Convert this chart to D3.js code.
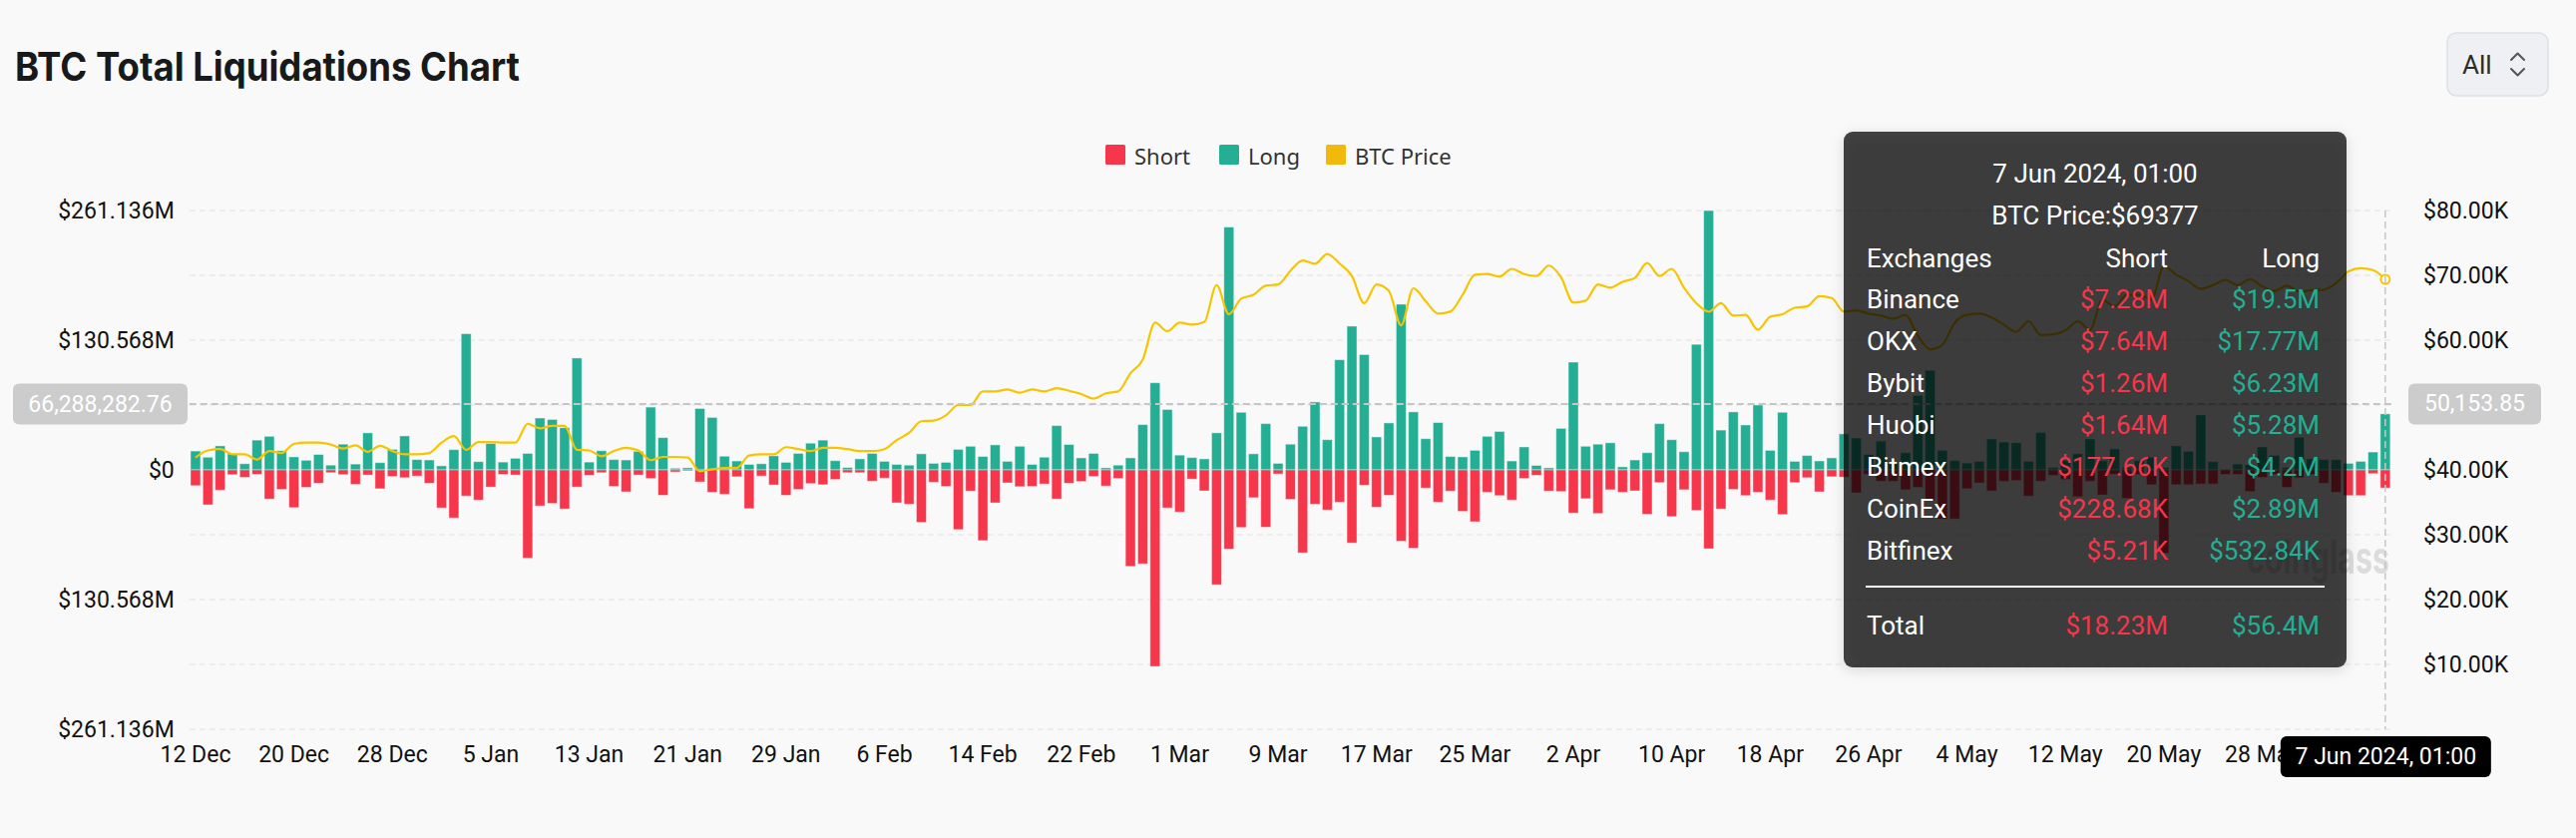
<!DOCTYPE html>
<html><head><meta charset="utf-8">
<script src="https://cdn.jsdelivr.net/npm/d3@7"></script>
<style>
html,body{margin:0;padding:0;background:#f9f9f9;}
svg{display:block;}
</style></head><body>
<svg id="chart" width="2582" height="840"></svg>
<script>
// ---------------- DATA ----------------
const startDate = "2023-12-12";
const endDate = "2024-06-07";
const tickLabels = ["12 Dec","20 Dec","28 Dec","5 Jan","13 Jan","21 Jan","29 Jan","6 Feb","14 Feb","22 Feb","1 Mar","9 Mar","17 Mar","25 Mar","2 Apr","10 Apr","18 Apr","26 Apr","4 May","12 May","20 May","28 May","5 Jun"];
// Long liquidations (million USD)
const longM = [
19.0,12.8,24.2,16.2,6.2,30.0,33.8,19.3,13.1,9.7,
15.5,4.8,25.9,5.9,37.3,7.3,20.7,34.2,10.4,10.0,
4.1,20.4,137.1,8.3,26.6,7.9,11.7,16.6,52.2,50.8,
42.5,112.6,7.9,19.3,10.4,10.0,18.7,63.2,32.5,1.7,
2.1,61.8,52.8,13.8,9.0,5.5,6.2,14.2,7.6,16.6,
26.9,30.0,9.3,2.4,11.1,16.6,8.6,5.5,4.8,16.2,
6.6,7.6,20.7,23.8,13.5,25.2,8.6,23.8,5.5,12.8,
44.6,25.6,12.1,16.6,2.1,4.8,12.1,45.6,87.7,60.8,
14.9,12.4,11.1,37.3,244.5,58.0,16.2,46.6,6.6,25.9,
43.9,68.4,30.4,110.9,144.7,116.1,33.2,47.3,166.8,58.4,
31.4,47.7,13.5,13.1,19.7,33.8,38.7,9.0,23.1,4.5,
2.1,41.8,108.5,23.8,25.9,27.3,3.1,10.0,17.3,46.6,
30.4,18.3,126.4,261.1,40.1,58.4,45.2,65.3,19.7,58.0,
8.6,14.5,9.0,12.1,36.3,32.1,15.5,29.0,5.9,17.3,
75.0,100.2,19.7,9.3,6.9,8.6,31.1,28.0,27.3,8.6,
37.6,2.4,9.3,16.2,31.1,9.3,21.1,2.4,9.3,12.8,
2.4,24.2,18.7,55.3,8.3,0.7,5.9,5.2,23.1,14.5,
2.4,32.8,11.1,10.4,10.4,6.6,8.6,18.0,56.4];
// Short liquidations (million USD)
const shortM = [
15.9,35.2,20.4,4.8,7.6,4.5,29.4,19.7,38.0,17.6,
13.5,2.8,4.8,14.5,5.2,19.0,6.6,7.9,6.2,13.5,
38.3,48.4,26.3,30.4,17.3,4.5,5.2,88.8,36.3,33.8,
39.4,17.3,5.5,2.8,16.6,22.1,5.2,8.6,25.6,2.1,
1.0,12.1,22.5,24.5,6.9,39.0,6.2,15.2,25.6,19.7,
13.8,14.9,9.7,2.8,2.8,11.4,8.3,33.2,34.5,52.8,
12.4,16.6,60.1,21.4,71.2,33.2,13.1,16.9,16.6,14.2,
29.4,13.5,11.7,6.6,16.2,8.6,97.1,94.6,197.9,38.3,
42.5,9.3,21.1,115.7,79.8,58.0,28.0,57.7,4.1,29.7,
83.6,34.5,40.4,32.5,73.6,15.5,37.6,25.6,71.8,78.8,
18.3,32.5,21.4,41.8,52.2,22.5,25.9,30.4,8.6,5.5,
21.4,21.8,43.5,29.0,43.9,20.0,22.5,21.1,44.6,12.8,
47.0,20.0,40.8,79.4,39.4,19.7,25.9,22.5,30.4,44.9,
12.8,7.9,22.1,6.9,7.3,23.1,4.5,11.4,11.4,20.0,
17.6,30.4,49.4,49.4,19.0,13.1,21.1,11.4,10.7,26.3,
11.4,5.5,9.7,26.9,11.4,25.2,4.5,28.7,4.5,14.9,
83.9,14.9,14.9,14.2,14.2,4.5,4.5,21.8,7.6,4.5,
17.6,7.9,4.5,13.5,22.5,25.9,25.9,3.8,18.23];
// BTC price (thousand USD)
const priceK = [
41.9,43.0,43.2,42.4,42.4,41.6,42.9,42.6,44.0,44.2,
44.2,43.9,43.3,43.8,42.8,43.7,42.9,42.4,42.4,42.6,
44.2,45.2,43.1,44.3,44.3,44.2,44.2,47.1,46.4,46.8,
46.8,43.1,43.0,42.1,42.9,43.4,43.0,41.5,42.0,42.0,
41.9,39.8,40.1,40.3,40.3,42.2,42.4,42.4,43.5,43.2,
42.9,43.4,43.4,43.2,42.9,42.9,43.2,44.6,45.7,47.5,
47.6,48.4,50.0,50.0,52.1,52.1,52.4,51.9,52.4,52.1,
52.6,52.2,51.7,51.0,51.8,52.1,54.9,57.0,62.7,61.4,
62.7,62.4,62.8,68.5,64.0,66.4,67.0,68.4,68.6,70.7,
72.3,71.8,73.3,71.8,69.9,65.7,68.6,67.6,62.3,68.0,
66.0,64.1,64.4,67.0,70.1,70.2,69.8,71.0,70.2,69.9,
71.5,69.7,65.8,66.1,68.6,68.1,69.0,69.6,71.9,69.9,
71.0,68.1,65.7,64.4,65.7,63.8,63.9,61.6,63.6,64.0,
65.0,65.2,66.8,66.5,64.4,64.6,64.1,63.8,63.3,63.9,
60.7,58.6,59.3,62.7,63.9,64.1,63.5,62.4,61.3,62.9,
60.8,60.9,61.5,62.9,61.6,66.2,65.2,67.0,67.0,66.3,
71.4,70.1,69.1,67.9,68.5,69.3,68.5,69.4,68.3,67.6,
68.4,67.5,67.7,67.8,68.8,70.6,71.1,70.8,69.377];
const leftTicks = [-261.136,-195.852,-130.568,-65.284,0,65.284,130.568,195.852,261.136];
const rightTicks = [0,10,20,30,40,50,60,70,80];
const exchanges = ["Binance","OKX","Bybit","Huobi","Bitmex","CoinEx","Bitfinex"];
const exShort = [7.28e6,7.64e6,1.26e6,1.64e6,177.66e3,228.68e3,5.21e3];
const exLong = [19.5e6,17.77e6,6.23e6,5.28e6,4.2e6,2.89e6,532.84e3];
const legendItems = ["Short","Long","BTC Price"];
const hoverLeftValue = 66288282.76;
const hoverRightValue = 50153.85;

// ---------------- STYLE ----------------
const C = {short:"#f5364b", long:"#24ae93", price:"#f7c500", legendPrice:"#f0b90b"};
const FONT = "Roboto, 'Noto Sans', sans-serif";
const svg = d3.select("#chart");
const W = 2582, H = 840;
const plot = {left:189.8, right:2397, top:211, bottom:731};

const parse = d3.timeParse("%Y-%m-%d");
const dates = d3.timeDay.range(parse(startDate), d3.timeDay.offset(parse(endDate),1));
const fmt = d3.timeFormat("%-d %b");
const cats = dates.map(d => fmt(d));

const x = d3.scaleBand().domain(d3.range(cats.length)).range([plot.left, plot.right]).padding(0);
const step = x.bandwidth();
const bw = step*0.81;
const cx = i => x(i) + step/2;
const yL = d3.scaleLinear().domain([-261.136, 261.136]).range([plot.bottom, plot.top]);
const yR = d3.scaleLinear().domain([0, 80]).range([plot.bottom, plot.top]);

svg.append("rect").attr("width",W).attr("height",H).attr("fill","#f9f9f9");

// Title
svg.append("text").attr("x",15).attr("y",81)
  .attr("font-family","Inter, Roboto, sans-serif").attr("font-weight",700).attr("font-size",40)
  .attr("textLength",506).attr("lengthAdjust","spacingAndGlyphs")
  .attr("fill","#18191b").text("BTC Total Liquidations Chart");

// "All" selector
const sel = svg.append("g");
sel.append("rect").attr("x",2453).attr("y",33).attr("width",101).attr("height",63).attr("rx",9)
  .attr("fill","#eef0f3").attr("stroke","#dde1e6").attr("stroke-width",1.5);
sel.append("text").attr("x",2468).attr("y",65).attr("dominant-baseline","central")
  .attr("font-family",FONT).attr("font-size",26).attr("fill","#2b2b2b").text("All");
sel.append("path").attr("d","M2517,60 L2523.5,53.5 L2530,60 M2517,69 L2523.5,75.5 L2530,69")
  .attr("fill","none").attr("stroke","#555").attr("stroke-width",2).attr("stroke-linecap","round").attr("stroke-linejoin","round");

// Legend
const legX = [1108, 1222, 1329];
const legCol = [C.short, C.long, C.legendPrice];
legendItems.forEach((t,i)=>{
  svg.append("rect").attr("x",legX[i]).attr("y",145).attr("width",20).attr("height",20).attr("rx",1.5).attr("fill",legCol[i]);
  svg.append("text").attr("x",legX[i]+29).attr("y",155.5).attr("dominant-baseline","central")
    .attr("font-family","'Noto Sans', sans-serif").attr("font-size",22).attr("fill","#333").text(t);
});

// Grid
const grid = svg.append("g");
leftTicks.forEach(v=>{
  grid.append("line").attr("x1",plot.left).attr("x2",plot.right).attr("y1",yL(v)).attr("y2",yL(v))
    .attr("stroke","#e9e9e9").attr("stroke-width",1.5).attr("stroke-dasharray","6,4");
});

// Bars
const bars = svg.append("g");
bars.selectAll("rect.long").data(longM).join("rect").attr("class","long")
  .attr("x",(d,i)=>cx(i)-bw/2).attr("width",bw)
  .attr("y",d=>yL(d)).attr("height",d=>yL(0)-yL(d))
  .attr("fill",C.long).attr("stroke","rgba(255,255,255,0.45)").attr("stroke-width",1);
bars.selectAll("rect.short").data(shortM).join("rect").attr("class","short")
  .attr("x",(d,i)=>cx(i)-bw/2).attr("width",bw)
  .attr("y",yL(0)).attr("height",d=>yL(-d)-yL(0))
  .attr("fill",C.short).attr("stroke","rgba(255,255,255,0.45)").attr("stroke-width",1);

// Price line
const line = d3.line().x((d,i)=>cx(i)).y(d=>yR(d)).curve(d3.curveMonotoneX);
svg.append("path").datum(priceK).attr("d",line).attr("fill","none")
  .attr("stroke",C.price).attr("stroke-width",2.2);
const last = priceK.length-1;
svg.append("circle").attr("cx",cx(last)).attr("cy",yR(priceK[last])).attr("r",4.5)
  .attr("fill","#f9f9f9").attr("stroke",C.price).attr("stroke-width",2);

// Watermark
svg.append("text").attr("x",2252).attr("y",575).attr("font-family","Inter, sans-serif").attr("font-weight",700)
  .attr("font-size",46).attr("textLength",143).attr("lengthAdjust","spacingAndGlyphs")
  .attr("fill","#9a9a9a").attr("opacity",0.3).text("coinglass");

// Crosshair lines
svg.append("line").attr("x1",plot.left).attr("x2",plot.right).attr("y1",yL(hoverLeftValue/1e6)).attr("y2",yL(hoverLeftValue/1e6))
  .attr("stroke","#c6c6c6").attr("stroke-width",2).attr("stroke-dasharray","7,4");
svg.append("line").attr("x1",cx(last)).attr("x2",cx(last)).attr("y1",plot.top).attr("y2",plot.bottom)
  .attr("stroke","#c6c6c6").attr("stroke-width",1.5).attr("stroke-dasharray","7,4");

// Axes
const axL = svg.append("g").attr("transform",`translate(${plot.left},0)`)
  .call(d3.axisLeft(yL).tickValues(leftTicks.filter((v,i)=>i%2===0)).tickSize(0).tickPadding(15)
    .tickFormat(v => v===0 ? "$0" : "$"+d3.format(".3f")(Math.abs(v))+"M"));
const axR = svg.append("g").attr("transform",`translate(${plot.right},0)`)
  .call(d3.axisRight(yR).tickValues(rightTicks.filter(v=>v>0)).tickSize(0).tickPadding(32)
    .tickFormat(v => "$"+d3.format(".2f")(v)+"K"));
const axB = svg.append("g").attr("transform",`translate(0,${plot.bottom})`)
  .call(d3.axisBottom(x).tickValues(d3.range(0,cats.length,8)).tickSize(0).tickPadding(17)
    .tickFormat(i => tickLabels[i/8]));
[axL,axR,axB].forEach(a=>{
  a.select(".domain").remove();
  a.selectAll("text").attr("font-family",FONT).attr("font-size",23).attr("fill","#111");
});

// Tooltip
const defs = svg.append("defs");
const f = defs.append("filter").attr("id","sh").attr("x","-10%").attr("y","-10%").attr("width","120%").attr("height","120%");
f.append("feDropShadow").attr("dx",0).attr("dy",3).attr("stdDeviation",7).attr("flood-color","#000").attr("flood-opacity",0.18);
const tt = svg.append("g");
tt.append("rect").attr("x",1848).attr("y",132).attr("width",504).attr("height",537).attr("rx",9)
  .attr("fill","rgba(0,0,0,0.727)").attr("filter","url(#sh)");
const money = v => v>=1e6 ? "$"+(+(v/1e6).toFixed(2))+"M" : "$"+(+(v/1e3).toFixed(2))+"K";
const ttText = (xx,yy,t,anchor,col) => tt.append("text").attr("x",xx).attr("y",yy).attr("text-anchor",anchor)
  .attr("dominant-baseline","central").attr("font-family",FONT).attr("font-size",26).attr("fill",col).text(t);
ttText(2100,174,d3.timeFormat("%-d %b %Y")(dates[last])+", 01:00","middle","#fff");
ttText(2100,216,"BTC Price:$"+Math.round(priceK[last]*1000),"middle","#fff");
ttText(1871,259,"Exchanges","start","#fff");
ttText(2173,259,"Short","end","#fff");
ttText(2325,259,"Long","end","#fff");
exchanges.forEach((e,i)=>{
  const yy = 300 + i*42;
  ttText(1871,yy,e,"start","#fff");
  ttText(2173,yy,money(exShort[i]),"end",C.short);
  ttText(2325,yy,money(exLong[i]),"end",C.long);
});
tt.append("line").attr("x1",1870).attr("x2",2330).attr("y1",588).attr("y2",588).attr("stroke","#fff").attr("stroke-width",2);
ttText(1871,627,"Total","start","#fff");
ttText(2173,627,money(d3.sum(exShort)),"end",C.short);
ttText(2325,627,money(d3.sum(exLong)),"end",C.long);

// Crosshair labels
const yh = yL(hoverLeftValue/1e6);
const lab = (x0,w,yc,txt,fill) => {
  svg.append("rect").attr("x",x0).attr("y",yc-20.5).attr("width",w).attr("height",41).attr("rx",6).attr("fill",fill);
  svg.append("text").attr("x",x0+w/2).attr("y",yc).attr("text-anchor","middle").attr("dominant-baseline","central")
    .attr("font-family",FONT).attr("font-size",23).attr("fill","#fff").text(txt);
};
lab(13,175,yh,d3.format(",.2f")(hoverLeftValue),"#cccccc");
lab(2414,133,yR(hoverRightValue/1000),d3.format(",.2f")(hoverRightValue),"#cccccc");
lab(cx(last)-105,211,758.5,d3.timeFormat("%-d %b %Y")(dates[last])+", 01:00","#000");
</script>
</body></html>
